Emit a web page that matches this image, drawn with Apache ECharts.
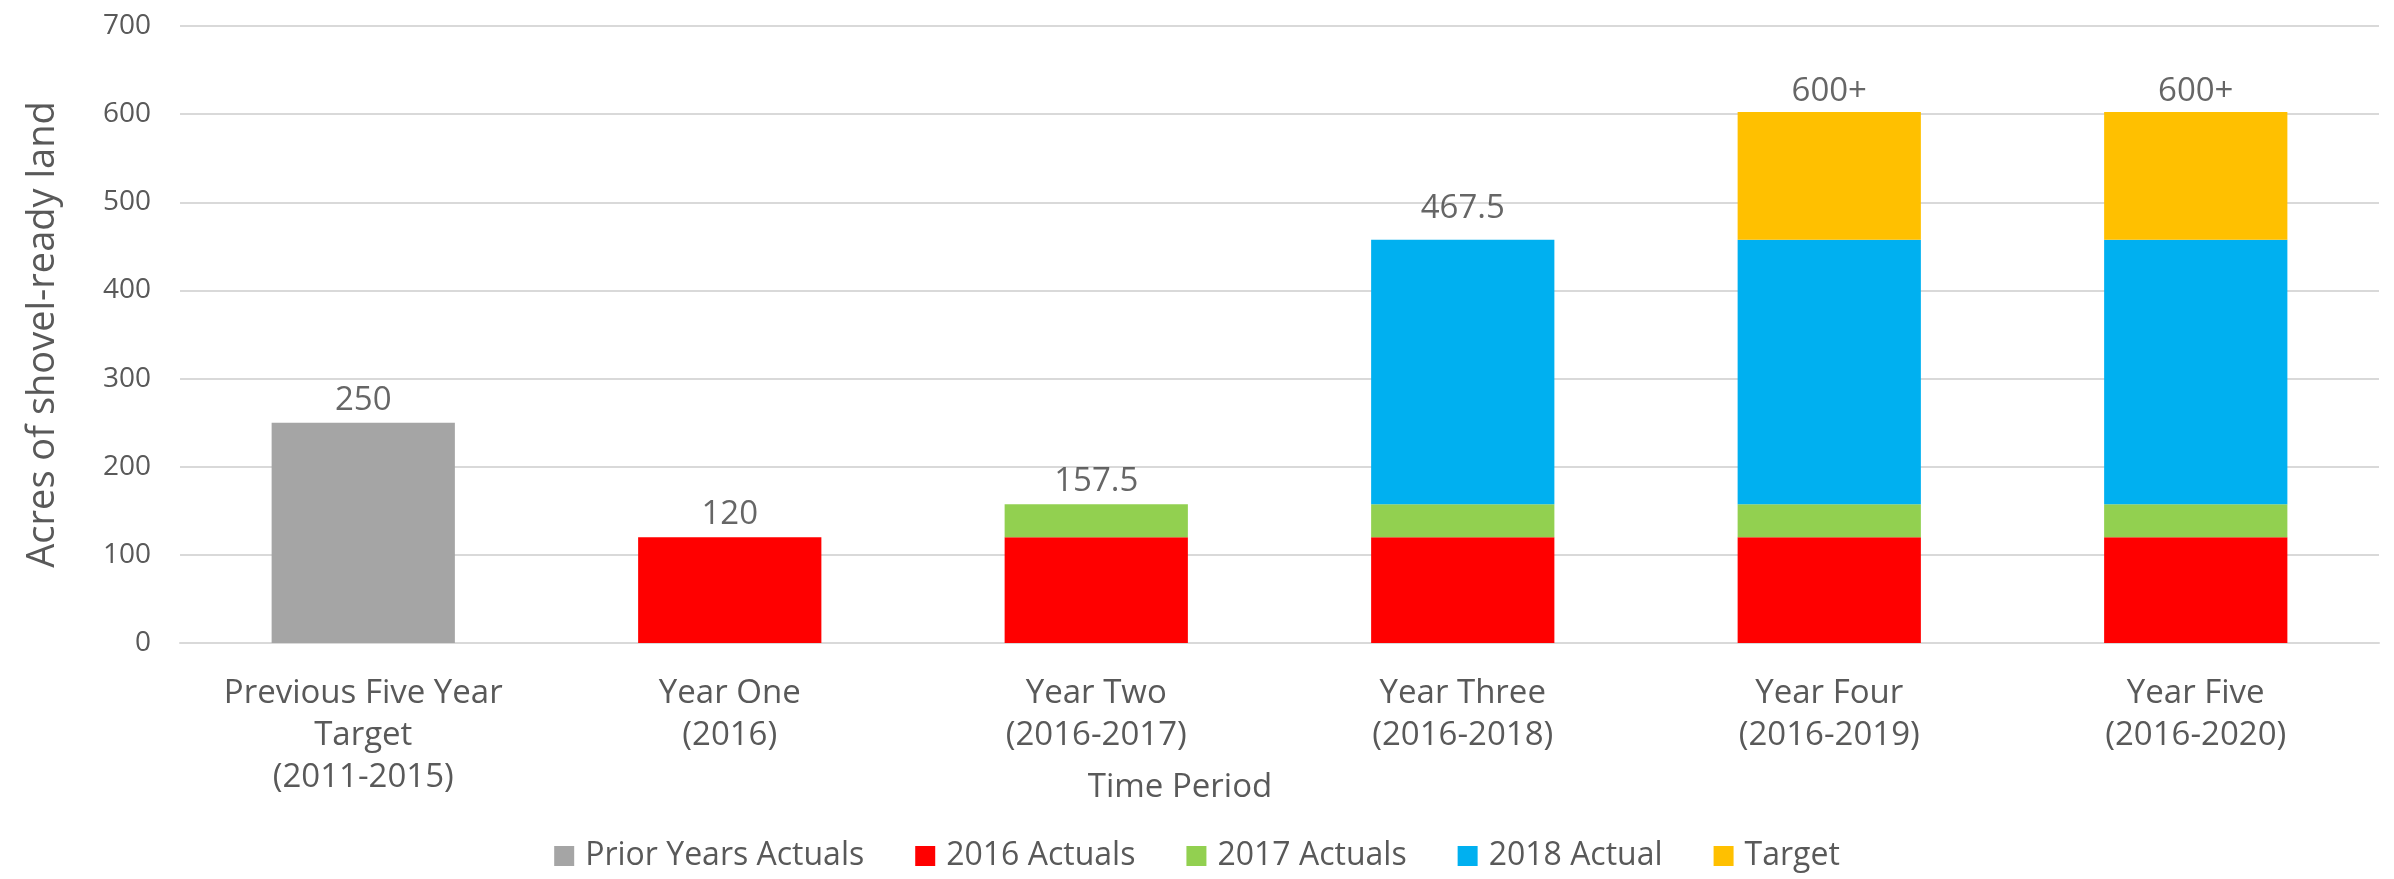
<!DOCTYPE html>
<html>
<head>
<meta charset="utf-8">
<script src="https://cdn.jsdelivr.net/npm/echarts@6/dist/echarts.min.js"></script>
<style>
  html, body { margin: 0; padding: 0; background: #fff; }
  #main { width: 2394px; height: 879px; }
</style>
</head>
<body>
<div id="main"></div>
<script>
// categories and values
var categories = [
    'Previous Five Year\nTarget\n(2011-2015)',
    'Year One\n(2016)',
    'Year Two\n(2016-2017)',
    'Year Three\n(2016-2018)',
    'Year Four\n(2016-2019)',
    'Year Five\n(2016-2020)'
];
var priorYears = [250, null, null, null, null, null];
var actuals2016 = [null, 120, 120, 120, 120, 120];
var actuals2017 = [null, null, 37.5, 37.5, 37.5, 37.5];
var actual2018 = [null, null, null, 300, 300, 300];
var target = [null, null, null, null, 145, 145];
var totalValues = [250, 120, 157.5, 467.5, 600, 600];
var totalLabels = ['250', '120', '157.5', '467.5', '600+', '600+'];
var yTicks = [0, 100, 200, 300, 400, 500, 600, 700];

var FONT = '"Open Sans", sans-serif';
var GREY_TEXT = '#595959';

var chart = echarts.init(document.getElementById('main'));

function barSeries(name, data, color) {
    return {
        name: name,
        type: 'bar',
        stack: 'total',
        barWidth: '50%',
        data: data,
        itemStyle: { color: color },
        emphasis: { disabled: true }
    };
}

var option = {
    animation: false,
    textStyle: { fontFamily: FONT },
    grid: { left: 180, right: 15, top: 26, bottom: 236 },
    title: {
        text: 'Time Period',
        left: 1175,
        top: 766,
        textAlign: 'center',
        textStyle: { fontFamily: FONT, fontSize: 33, fontWeight: 'normal', color: GREY_TEXT }
    },
    legend: {
        bottom: 2,
        left: 'center',
        icon: 'rect',
        itemWidth: 20,
        itemHeight: 20,
        itemGap: 51,
        textStyle: { fontFamily: FONT, fontSize: 32, color: GREY_TEXT, padding: [0, 0, 0, 6] },
        data: ['Prior Years Actuals', '2016 Actuals', '2017 Actuals', '2018 Actual', 'Target']
    },
    xAxis: {
        type: 'category',
        data: categories,
        axisLine: { lineStyle: { color: '#D9D9D9', width: 2 } },
        axisTick: { show: false },
        axisLabel: {
            color: GREY_TEXT,
            fontFamily: FONT,
            fontSize: 33,
            lineHeight: 42,
            margin: 30,
            interval: 0
        }
    },
    yAxis: {
        type: 'value',
        min: yTicks[0],
        max: yTicks[yTicks.length - 1],
        interval: 100,
        name: 'Acres of shovel-ready land',
        nameLocation: 'middle',
        nameGap: 118,
        nameTextStyle: { fontFamily: FONT, fontSize: 38, color: GREY_TEXT },
        axisLine: { show: false },
        axisTick: { show: false },
        axisLabel: { color: GREY_TEXT, fontFamily: FONT, fontSize: 28, margin: 29 },
        splitLine: { lineStyle: { color: '#D9D9D9', width: 2 } }
    },
    series: [
        barSeries('Prior Years Actuals', priorYears, '#A5A5A5'),
        barSeries('2016 Actuals', actuals2016, '#FF0000'),
        barSeries('2017 Actuals', actuals2017, '#92D050'),
        barSeries('2018 Actual', actual2018, '#00B0F0'),
        barSeries('Target', target, '#FFC000'),
        {
            name: 'labels',
            type: 'scatter',
            symbolSize: 0,
            data: totalValues,
            silent: true,
            label: {
                show: true,
                position: 'top',
                distance: 6,
                color: '#404040',
                fontFamily: FONT,
                fontSize: 33,
                formatter: function (p) { return totalLabels[p.dataIndex]; }
            }
        }
    ]
};
chart.setOption(option);
</script>
</body>
</html>
